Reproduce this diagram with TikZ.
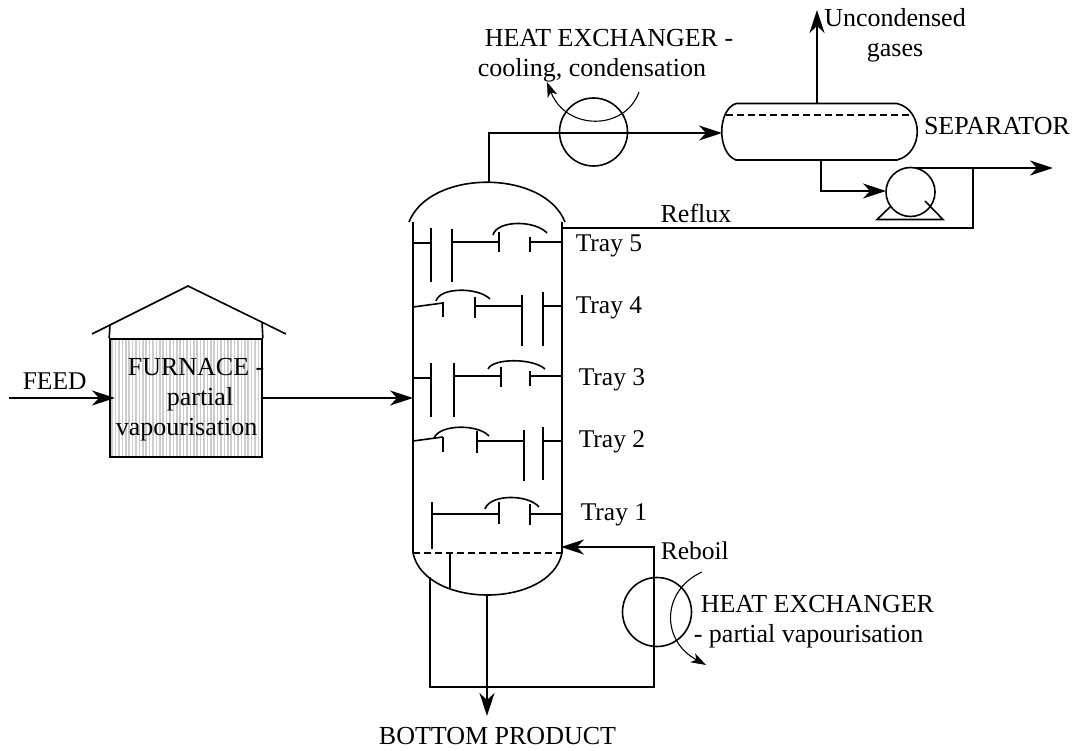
\documentclass[tikz,border=0pt]{standalone}
\usepackage{fontspec}
\setmainfont{Liberation Serif}
\usetikzlibrary{arrows.meta,patterns.meta}

\begin{document}
\begin{tikzpicture}[x=1pt,y=-1pt,line width=1.6pt]
    % Define styles
    \tikzstyle{label} = [inner sep=0pt, font=\fontsize{26}{30}\selectfont, align=center]
    \tikzstyle{tag} = [label, font=\fontsize{25.5}{30}\selectfont, anchor=base west]
    \tikzstyle{exchanger} = [circle, draw, minimum size=68pt, inner sep=0pt]
    \tikzstyle{oven} = [rectangle, draw, minimum width=152pt, minimum height=118pt, pattern={Lines[angle=90,distance=3.4pt,line width=1.7pt]}, pattern color=black!20]
    \tikzstyle{arrow} = [-{Stealth[length=23pt,width=15pt,inset=7pt]}]
    \tikzstyle{thinarrow} = [line width=1.1pt, -{Stealth[length=15pt,width=10pt,inset=4pt]}]
    \useasboundingbox (0,0) rectangle (1077,751);

    % Furnace
    \node[oven] (furnace) at (186,398) {};
    \node[label, align=left, anchor=west] (furnacetext) at (115,400) {\hspace*{12pt}FURNACE -\\\hspace*{51pt}partial\\vapourisation};
    \coordinate (roofl) at (92,334);
    \coordinate (roofm) at (188,286);
    \coordinate (roofr) at (286,334);
    \draw (roofl) -- (roofm) -- (roofr);
    \draw (furnace.north west) -- (110,325);
    \draw (furnace.north east) -- (262,322);
    \node[tag] (feed) at (22,390) {FEED};
    \coordinate (feedin) at (9,398);
    \coordinate (feedend) at (115,398);
    \draw[arrow] (feedin) -- (feedend);

    % Column
    \coordinate (coltop) at (489,182);
    \coordinate (colbot) at (487,595);
    \coordinate (colfeed) at (413,398);
    \draw (409,222) .. controls (430,169) and (544,169) .. (565,222);
    \draw (413,222) -- (413,553) .. controls (425,609) and (550,609) .. (562,553) -- (562,222);
    \draw[dashed, dash pattern=on 7pt off 4pt] (413,553) -- (562,553);
    \draw[arrow] (furnace.east) -- (colfeed);

    % Tray 5
    \draw (413,243) -- (431,243);
    \draw (431,228) -- (431,282);
    \draw (452,229) -- (452,282);
    \draw (452,242) -- (499,242);
    \draw (499,232) -- (499,252);
    \draw (530,237) -- (530,252);
    \draw (530,242) -- (562,242);
    \draw (493,235) .. controls (497,220) and (535,220) .. (547,233);
    % Tray 4
    \draw (413,307) -- (443,303);
    \draw (443,302) -- (443,317);
    \draw (475,297) -- (475,318);
    \draw (475,306) -- (522,306);
    \draw (522,295) -- (522,346);
    \draw (543,292) -- (543,346);
    \draw (543,306) -- (562,306);
    \draw (436,301) .. controls (440,287) and (478,287) .. (490,299);
    % Tray 3
    \draw (413,378) -- (431,378);
    \draw (431,363) -- (431,417);
    \draw (454,363) -- (454,417);
    \draw (454,376) -- (501,376);
    \draw (501,367) -- (501,387);
    \draw (530,371) -- (530,386);
    \draw (530,376) -- (562,376);
    \draw (488,369) .. controls (493,358) and (533,358) .. (545,369);
    % Tray 2
    \draw (413,441) -- (443,437);
    \draw (443,437) -- (443,452);
    \draw (477,431) -- (477,453);
    \draw (477,441) -- (524,441);
    \draw (524,430) -- (524,481);
    \draw (543,427) -- (543,480);
    \draw (543,441) -- (562,441);
    \draw (434,438) .. controls (440,424) and (478,424) .. (489,436);
    % Tray 1
    \draw (432,502) -- (432,549);
    \draw (432,514) -- (499,514);
    \draw (499,502) -- (499,524);
    \draw (530,504) -- (530,525);
    \draw (530,514) -- (562,514);
    \draw (485,509) .. controls (490,494) and (528,494) .. (539,507);

    % Tray labels
    \node[tag] (tray5) at (575,252) {Tray 5};
    \node[tag] (tray4) at (575,314) {Tray 4};
    \node[tag] (tray3) at (578,385) {Tray 3};
    \node[tag] (tray2) at (578,447) {Tray 2};
    \node[tag] (tray1) at (580,520) {Tray 1};

    % Overhead
    \node[exchanger] (hxtop) at (593.5,132) {};
    \node[label, align=left, anchor=west] (hxtoptext) at (477,56) {\hspace*{7pt}HEAT EXCHANGER -\\cooling, condensation};
    \coordinate (sepin) at (722,133);
    \draw[arrow] (coltop) |- (sepin);
    \coordinate (coolin) at (639,92);
    \coordinate (coolout) at (547,82);
    \draw[thinarrow] (coolin) .. controls (625,131) and (566,131) .. (coolout);

    % Separator
    \draw (736,103.5) -- (897,103.5) .. controls (924,110) and (924,153) .. (897,160)
        -- (736,160) .. controls (717,153) and (717,110) .. (736,103.5);
    \draw[dashed, dash pattern=on 7pt off 4pt] (726,115) -- (912,115);
    \node[label] (septext) at (997,126) {SEPARATOR};
    \coordinate (septop) at (817,103.5);
    \coordinate (gasout) at (817,10);
    \draw[arrow] (septop) -- (gasout);
    \node[label] (gastext) at (895,35) {Uncondensed\\gases};

    % Pump
    \node[exchanger, minimum size=49pt] (pump) at (910.5,192) {};
    \coordinate (sepbot) at (821,160);
    \coordinate (pumpin) at (886,191);
    \draw[arrow] (sepbot) |- (pumpin);
    \draw (890,207) -- (877,219.5) -- (943,219.5) -- (925,201);
    \coordinate (pumpout) at (916,168);
    \coordinate (product) at (1053,168);
    \coordinate (branch) at (973,168);
    \coordinate (refluxin) at (562,228);
    \draw[arrow] (pumpout) -- (product);
    \draw (branch) |- (refluxin);
    \node[label] (refluxtext) at (696,213.5) {Reflux};

    % Bottom
    \node[exchanger, minimum size=69pt] (hxbot) at (657,612) {};
    \node[label, align=left, anchor=west] (hxbottext) at (693,622) {\hspace*{7pt}HEAT EXCHANGER\\- partial vapourisation};
    \node[tag] (reboiltext) at (660,559) {Reboil};
    \coordinate (sumpl) at (430,577);
    \coordinate (sumpm) at (450,553);
    \coordinate (sumpn) at (450,588);
    \coordinate (loopl) at (430,687);
    \coordinate (loopr) at (654,687);
    \coordinate (looptop) at (654,547);
    \coordinate (reboilin) at (561,547);
    \draw (sumpm) -- (sumpn);
    \draw[arrow] (sumpl) -- (loopl) -- (loopr) -- (looptop) -- (reboilin);
    \coordinate (productout) at (487,716);
    \draw[arrow] (colbot) -- (productout);
    \node[label] (producttext) at (497.5,736) {BOTTOM PRODUCT};
    \coordinate (heatin) at (702,572);
    \coordinate (heatout) at (706,665);
    \draw[thinarrow] (heatin) .. controls (662,590) and (660,640) .. (heatout);
\end{tikzpicture}
\end{document}
